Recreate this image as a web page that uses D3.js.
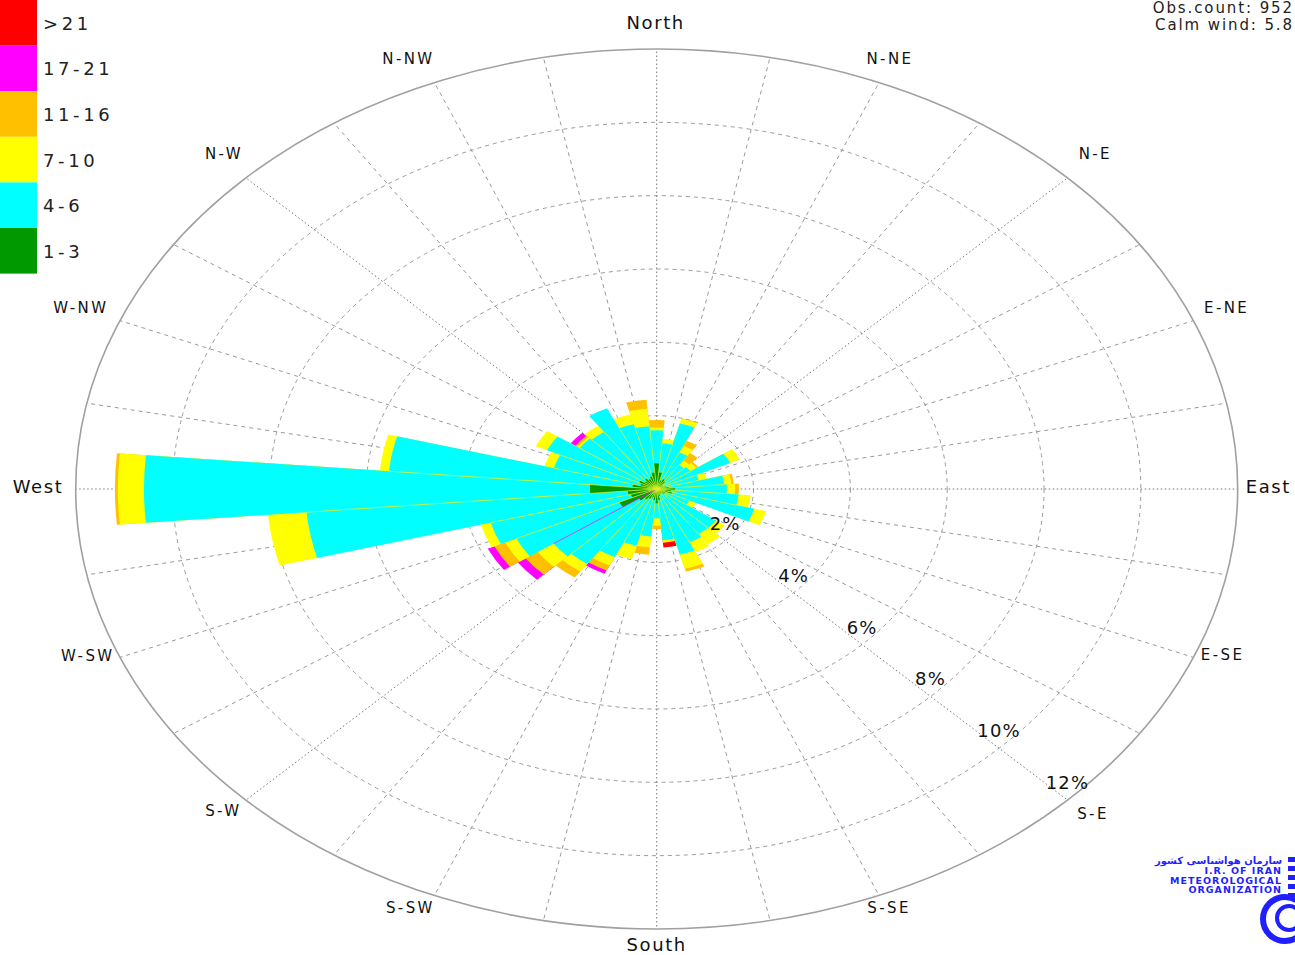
<!DOCTYPE html>
<html>
<head>
<meta charset="utf-8">
<script src="https://cdn.jsdelivr.net/npm/d3@7"></script>
<style>
  html, body { margin: 0; padding: 0; background: #fff; overflow: hidden; }
  svg { display: block; font-family: "DejaVu Sans", sans-serif; }
</style>
</head>
<body>
<svg id="chart" width="1295" height="955"></svg>
<script>
// Wind directions (degrees, centre of each 10° sector)
const directions = d3.range(0, 360, 10);

// Speed classes (knots) and their colours
const speedClasses = ["1-3", "4-6", "7-10", "11-16", "17-21", ">21"];
const classColors  = ["#009a00", "#00ffff", "#ffff00", "#ffc000", "#ff00ff", "#ff0000"];

// Frequency (%) of each speed class per direction, 0°..350°
const s1_3   = [0.70,0.45,0.25,0.30,0.25,0.15,0.15,0.20,0.25,0.38,0.30,0.33,0.20,0.20,0.15,0.15,0.20,0.30,
                0.39,0.30,0.25,0.30,0.35,0.45,0.85,0.55,0.60,1.38,0.50,0.35,0.40,0.30,0.35,0.30,0.35,0.45];
const s4_6   = [0.90,0.80,1.60,0.80,0.55,0.70,1.53,0.70,1.15,1.07,1.40,1.76,0.55,1.30,1.35,1.45,1.65,1.10,
                0.41,1.00,1.35,1.75,2.15,2.15,2.35,3.00,6.66,9.21,5.05,1.85,2.10,1.65,1.55,2.13,1.48,1.27];
const s7_10  = [0.08,0.12,0.13,0.20,0.15,0.15,0.22,0.17,0.15,0.17,0.25,0.25,0.15,0.22,0.34,0.30,0.40,0.07,
                0.20,0.30,0.38,0.25,0.25,0.40,0.25,0.21,0.80,0.54,0.19,0.20,0.26,0.05,0.21,0.00,0.27,0.48];
const s11_16 = [0.20,0.00,0.02,0.15,0.25,0.05,0.00,0.00,0.05,0.08,0.00,0.00,0.00,0.00,0.00,0.00,0.08,0.00,
                0.10,0.20,0.00,0.15,0.20,0.30,0.25,0.00,0.00,0.06,0.00,0.00,0.00,0.05,0.00,0.00,0.00,0.24];
const s17_21 = [0.00,0.00,0.00,0.00,0.00,0.00,0.00,0.00,0.00,0.00,0.00,0.00,0.00,0.00,0.00,0.00,0.00,0.00,
                0.00,0.00,0.00,0.10,0.00,0.20,0.15,0.00,0.00,0.00,0.00,0.00,0.00,0.12,0.00,0.00,0.00,0.00];
const s21p   = [0.00,0.00,0.00,0.00,0.00,0.00,0.00,0.00,0.00,0.00,0.00,0.00,0.00,0.00,0.00,0.00,0.00,0.13,
                0.00,0.00,0.00,0.00,0.00,0.00,0.00,0.00,0.00,0.00,0.00,0.00,0.00,0.00,0.00,0.00,0.00,0.00];

// Percentage rings
const ringTicks = [2, 4, 6, 8, 10, 12];

// Compass point names, clockwise from north
const compassLabels = ["North","N-NE","N-E","E-NE","East","E-SE","S-E","S-SE",
                       "South","S-SW","S-W","W-SW","West","W-NW","N-W","N-NW"];

const infoLines = ["Obs.count: 952", "Calm wind: 5.8"];

// ---------------------------------------------------------------------------
const svg = d3.select("#chart");
const cx = 656.7, cy = 489, rx = 581, ry = 440;
const maxPct = 12;
const r = d3.scaleLinear().domain([0, maxPct]).range([0, ry]);
const xStretch = rx / ry;
const rad = d => d * Math.PI / 180;

// Point on the (elliptical) polar plane for a compass bearing and a value in %
function project(deg, pct) {
  const rr = r(pct);
  return [cx + rr * xStretch * Math.sin(rad(deg)), cy - rr * Math.cos(rad(deg))];
}

// ----- grid -----------------------------------------------------------------
const grid = svg.append("g");
ringTicks.slice(0, -1).forEach(t => {
  grid.append("ellipse")
    .attr("cx", cx).attr("cy", cy)
    .attr("rx", r(t) * xStretch).attr("ry", r(t))
    .attr("fill", "none").attr("stroke", "#9a9a9a")
    .attr("stroke-width", 1).attr("stroke-dasharray", "4,4");
});

const spokes = d3.range(0, 360, 11.25);
spokes.forEach(a => {
  const [x2, y2] = project(a, maxPct);
  const main = Math.abs(a % 45) < 1e-6;
  grid.append("line")
    .attr("x1", cx).attr("y1", cy).attr("x2", x2).attr("y2", y2)
    .attr("stroke", main ? "#777" : "#9a9a9a")
    .attr("stroke-width", 1)
    .attr("stroke-dasharray", main ? "1.5,2.5" : "4,4");
});

grid.append("ellipse")
  .attr("cx", cx).attr("cy", cy)
  .attr("rx", r(maxPct) * xStretch).attr("ry", r(maxPct))
  .attr("fill", "none").attr("stroke", "#a0a0a0").attr("stroke-width", 1.6);

// ----- bars -----------------------------------------------------------------
const series = [s1_3, s4_6, s7_10, s11_16, s17_21, s21p];
const rows = directions.map((d, i) => {
  const o = { dir: d };
  speedClasses.forEach((k, j) => o[k] = series[j][i]);
  return o;
});
const stacked = d3.stack().keys(speedClasses)(rows);

const arc = d3.arc().innerRadius(0);
const bars = svg.append("g")
  .attr("transform", `translate(${cx},${cy}) scale(${xStretch},1)`);

// Outer classes first, each as a full sector from the centre, so inner classes paint over them
for (let j = stacked.length - 1; j >= 0; j--) {
  bars.append("g").selectAll("path")
    .data(stacked[j].filter(d => d[1] - d[0] > 0))
    .join("path")
    .attr("d", d => arc({
      outerRadius: r(d[1]),
      startAngle: rad(d.data.dir - 5),
      endAngle: rad(d.data.dir + 5)
    }))
    .attr("fill", classColors[j]);
}

// Thin seams between neighbouring sectors, reaching as far as the shorter 4-6 stack
const mid = stacked[1];
directions.forEach((d, i) => {
  const k = (i + 1) % directions.length;
  const reach = Math.min(mid[i][1], mid[k][1]);
  const both17 = s17_21[i] > 0 && s17_21[k] > 0;
  const [x2, y2] = project(d + 5, reach);
  svg.append("line")
    .attr("x1", cx).attr("y1", cy).attr("x2", x2).attr("y2", y2)
    .attr("stroke", both17 ? "#ff00ff" : "#e8f020")
    .attr("stroke-width", 0.8).attr("stroke-opacity", 0.9);
});

// ----- ring labels along S-E --------------------------------------------------
ringTicks.forEach(t => {
  const [x, y] = project(135, t);
  svg.append("text")
    .attr("x", x).attr("y", y - 11)
    .attr("text-anchor", "middle")
    .attr("font-size", 18).attr("letter-spacing", 1.2)
    .attr("fill", "#111")
    .text(t + "%");
});

// ----- compass labels --------------------------------------------------------
// small per-label nudges (px) for the placement around the rim
const labelNudge = {
  "North": [-1, 3], "N-NE": [-2, 4], "N-E": [4, -2], "E-NE": [2, 1],
  "East": [-3, 1], "E-SE": [-2, -8], "S-E": [7, 4], "S-SE": [0, -2],
  "South": [0, 0], "S-SW": [-14, -2], "S-W": [-4, 1], "W-SW": [-1, -7],
  "West": [-4, 1], "W-NW": [-8, 1], "N-W": [2, -2], "N-NW": [-13, 4]
};
compassLabels.forEach((name, i) => {
  const a = i * 22.5;
  const lower = Math.cos(rad(a)) < -0.5;
  const [x, y] = project(a, maxPct * (lower ? 1.045 : 1.058));
  const [nx, ny] = labelNudge[name];
  const major = i % 4 === 0;
  svg.append("text")
    .attr("x", x + nx).attr("y", y - 4 + ny)
    .attr("text-anchor", "middle").attr("dominant-baseline", "central")
    .attr("font-size", major ? 18 : 15)
    .attr("letter-spacing", major ? 1.6 : 2.4)
    .attr("fill", "#111")
    .text(name);
});

// ----- legend ----------------------------------------------------------------
const legendH = 45.6;
const legend = svg.append("g");
const legendOrder = d3.range(speedClasses.length).reverse();
legendOrder.forEach((j, k) => {
  legend.append("rect")
    .attr("x", 0).attr("y", k * legendH)
    .attr("width", 37).attr("height", legendH)
    .attr("fill", classColors[j]);
  legend.append("text")
    .attr("x", 43).attr("y", k * legendH + legendH / 2 + 7)
    .attr("font-size", 18).attr("letter-spacing", 3.6)
    .attr("fill", "#222")
    .text(speedClasses[j]);
});

// ----- observation info (right-aligned to the page edge) ----------------------
infoLines.forEach((t, i) => {
  svg.append("text")
    .attr("x", 1294).attr("y", 13 + i * 17)
    .attr("text-anchor", "end")
    .attr("font-size", 15).attr("letter-spacing", 1.9)
    .attr("fill", "#222")
    .text(t);
});

// ----- organisation mark -----------------------------------------------------
const logoBlue = "#1f1fff";
const logo = svg.append("g").attr("fill", logoBlue);
logo.append("text").attr("x", 1282).attr("y", 864).attr("text-anchor", "end")
  .attr("font-size", 10).attr("font-weight", "bold").text("سازمان هواشناسی کشور");
[["I.R. OF IRAN", 874], ["METEOROLOGICAL", 883.5], ["ORGANIZATION", 893]].forEach(([t, y]) => {
  logo.append("text").attr("x", 1282).attr("y", y).attr("text-anchor", "end")
    .attr("font-size", 9.5).attr("font-weight", "bold").attr("letter-spacing", 1).text(t);
});
d3.range(5).forEach(k => {
  logo.append("rect").attr("x", 1288).attr("y", 857 + k * 9).attr("width", 8).attr("height", 5);
});
const emblem = svg.append("g").attr("fill", "none").attr("stroke", logoBlue);
emblem.append("circle").attr("cx", 1285).attr("cy", 919).attr("r", 22).attr("stroke-width", 6);
emblem.append("circle").attr("cx", 1289).attr("cy", 918).attr("r", 12).attr("stroke-width", 4);
</script>
</body>
</html>
